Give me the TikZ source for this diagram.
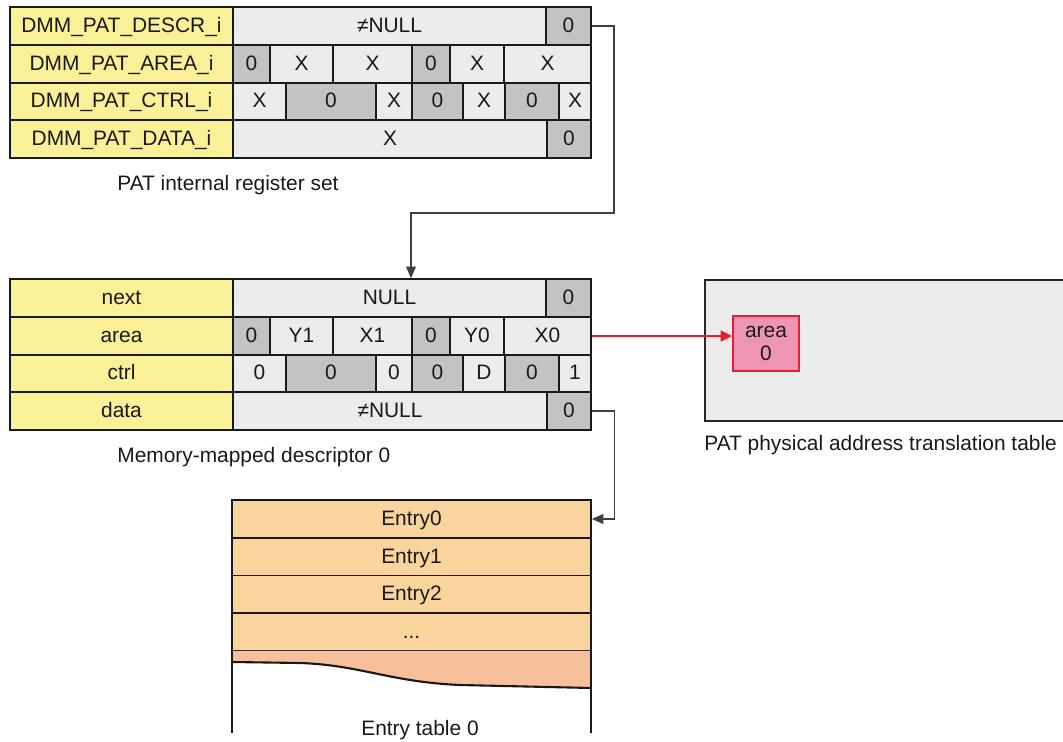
\documentclass[tikz,border=0pt]{standalone}
\usepackage{fontspec}
\setmainfont{Liberation Sans}
\usetikzlibrary{positioning,calc,arrows.meta}

\definecolor{regyellow}{RGB}{250,240,152}
\definecolor{celllight}{RGB}{236,236,236}
\definecolor{celldark}{RGB}{195,195,195}
\definecolor{entryfill}{RGB}{249,212,156}
\definecolor{tailfill}{RGB}{247,192,155}
\definecolor{areafill}{RGB}{238,148,180}
\definecolor{areared}{RGB}{232,32,46}

\tikzset{
  txt/.style={font=\fontsize{11.9}{12.6}\selectfont, text=black!90},
  cell/.style={txt, draw=black!90, line width=1pt, inner sep=0pt,
    text height=0.84em, text depth=0.10em},
  frame/.style={draw=black!90, line width=1.5pt},
  link/.style={draw=black!75, line width=0.6pt, -{Triangle[length=6.5pt,width=5.6pt]}},
  redlink/.style={draw=areared, line width=0.6pt, -{Triangle[length=6.5pt,width=6.5pt]}},
  caption/.style={txt, inner sep=0pt},
  entrycell/.style={cell, fill=entryfill, minimum width={359*0.02cm}, minimum height={37.75*0.02cm}},
}

% one register row: name, top, bottom, list of left/right/fill/text
\newcommand{\regrow}[4]{%
  \foreach \a/\b/\f/\t [count=\i] in {#4} {%
    \node[cell, fill=\f, minimum width={(\b-\a)*0.02cm}, minimum height={(#3-#2)*0.02cm}]
      (#1-\i) at ({(\a+\b)/2},{(#2+#3)/2}) {\t};}%
}

\begin{document}
\begin{tikzpicture}[x=0.02cm,y=-0.02cm]
\useasboundingbox (0,0) rectangle (1063,742);
% PAT internal register set
\regrow{rdescr}{7}{45}{10/233/regyellow/DMM\_PAT\_DESCR\_i, 233/546/celllight/≠NULL, 546/591/celldark/0}
\regrow{rarea}{45}{83}{10/233/regyellow/DMM\_PAT\_AREA\_i, 233/270/celldark/0, 270/333/celllight/X,
  333/412/celllight/X, 412/450/celldark/0, 450/504/celllight/X, 504/591/celllight/X}
\regrow{rctrl}{83}{120}{10/233/regyellow/DMM\_PAT\_CTRL\_i, 233/286/celllight/X, 286/376/celldark/0,
  376/412/celllight/X, 412/463/celldark/0, 463/505/celllight/X, 505/559/celldark/0, 559/591/celllight/X}
\regrow{rdata}{120}{158}{10/233/regyellow/DMM\_PAT\_DATA\_i, 233/547/celllight/X, 547/591/celldark/0}
\draw[frame] (10,7) rectangle (591,158);
\node[caption, anchor=base west] (regcap) at (117,190.5) {PAT internal register set};

% memory-mapped descriptor 0
\regrow{mnext}{279}{317}{10/233/regyellow/next, 233/546/celllight/NULL, 546/591/celldark/0}
\regrow{marea}{317}{355}{10/233/regyellow/area, 233/270/celldark/0, 270/333/celllight/Y1,
  333/412/celllight/X1, 412/450/celldark/0, 450/504/celllight/Y0, 504/591/celllight/X0}
\regrow{mctrl}{355}{392}{10/233/regyellow/ctrl, 233/286/celllight/0, 286/376/celldark/0,
  376/412/celllight/0, 412/463/celldark/0, 463/505/celllight/D, 505/559/celldark/0, 559/591/celllight/1}
\regrow{mdata}{392}{430}{10/233/regyellow/data, 233/547/celllight/≠NULL, 547/591/celldark/0}
\draw[frame] (10,279) rectangle (591,430);
\node[caption, anchor=base west] (desccap) at (117,462.5) {Memory-mapped descriptor 0};

% translation table
\node[draw=black!85, line width=1.2pt, fill=celllight, anchor=north west, inner sep=0pt,
  minimum width={364*0.02cm}, minimum height={141*0.02cm}] (pattable) at (704,279) {};
\node[txt, draw=areared, fill=areafill, line width=1.2pt, inner sep=0pt, align=center,
  minimum width={66*0.02cm}, minimum height={55*0.02cm}] (patarea) at (766,343.5) {area\\0};
\node[caption, anchor=base west] (tablecap) at (704,450.5) {PAT physical address translation table};

% entry table 0
\foreach \t [count=\i from 0] in {Entry0,Entry1,Entry2} {
  \node[entrycell] (entry\i) at (411.5,{519+37.75*\i}) {\t};}
\node[entrycell] (entry3) at (411.5,632.25) {...};
\fill[tailfill] (232,651) -- (591,651) -- (591,688) -- (460,685)
  .. controls (390,682) and (360,665) .. (300,663) -- (232,662) -- cycle;
\draw[line width=1.2pt, black!90] (591,688) -- (460,685)
  .. controls (390,682) and (360,665) .. (300,663) -- (232,662);
\draw[line width=1.2pt, black!90] (232,500) -- (232,733) (591,500) -- (591,733);
\node[caption, anchor=base] (entrycap) at (420,735.5) {Entry table 0};

% connectors
\coordinate (descrbend) at (614,213);
\draw[link] (rdescr-3.east) -| (descrbend) -| ([xshift=0.43cm]mnext-2.north);
\draw[redlink] (marea-7.east) -- (marea-7.east -| patarea.west);
\draw[link] (mdata-3.east) -| ([xshift=0.46cm]entry0.east) -- (entry0.east);
\end{tikzpicture}
\end{document}
